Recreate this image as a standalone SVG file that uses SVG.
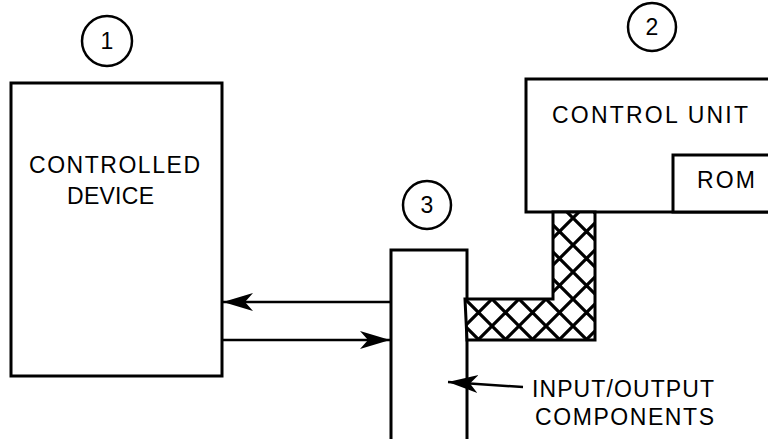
<svg xmlns="http://www.w3.org/2000/svg" width="768" height="439" viewBox="0 0 768 439">
<style>
.box{fill:#fff;stroke:#000;stroke-width:3}
.circ{fill:#fff;stroke:#000;stroke-width:2.5}
.lbl{font-family:"Liberation Sans",Arial,sans-serif;font-size:23px;fill:#000}
.num{font-family:"Liberation Sans",Arial,sans-serif;font-size:23px;fill:#000;text-anchor:middle}
.wire{fill:none;stroke:#000;stroke-width:2.5}
</style>
<defs>
<pattern id="hatch" patternUnits="userSpaceOnUse" width="27" height="27" x="465" y="299">
<rect width="27" height="27" fill="#fff"/>
<path d="M-1,-1 L28,28 M28,-1 L-1,28" stroke="#000" stroke-width="3.2"/>
</pattern>
<marker id="ah" markerUnits="userSpaceOnUse" markerWidth="34" markerHeight="22" refX="30" refY="9" orient="auto">
<path d="M0,0 L30,9 L0,18 L8,9 Z" fill="#000"/>
</marker>
</defs>
<g id="node-1">
<circle class="circ" cx="107" cy="41" r="25"/>
<text class="num" x="107" y="49">1</text>
<rect class="box" x="11" y="83" width="211" height="293"/>
<text class="lbl" x="29" y="173" textLength="171" lengthAdjust="spacing">CONTROLLED</text>
<text class="lbl" x="67" y="204" textLength="87" lengthAdjust="spacing">DEVICE</text>
</g>
<g id="node-2">
<circle class="circ" cx="652" cy="27" r="24"/>
<text class="num" x="652" y="35">2</text>
<rect class="box" x="526" y="79" width="260" height="133"/>
<text class="lbl" x="552" y="123" textLength="196" lengthAdjust="spacing">CONTROL UNIT</text>
<rect class="box" x="673" y="155" width="110" height="57"/>
<text class="lbl" x="697" y="188" textLength="58" lengthAdjust="spacing">ROM</text>
</g>
<g id="node-3">
<circle class="circ" cx="427" cy="205" r="24"/>
<text class="num" x="427" y="213">3</text>
<rect class="box" x="391" y="250" width="76" height="192"/>
<text class="lbl" x="532" y="397" textLength="182" lengthAdjust="spacing">INPUT/OUTPUT</text>
<text class="lbl" x="535" y="425" textLength="179" lengthAdjust="spacing">COMPONENTS</text>
</g>
<g id="connectors">
<path d="M465,299 L553,299 L553,212 L595,212 L595,340 L467,340 Z" fill="url(#hatch)" stroke="#000" stroke-width="3"/>
<line class="wire" x1="391" y1="302" x2="223" y2="302" marker-end="url(#ah)"/>
<line class="wire" x1="223" y1="340" x2="390" y2="340" marker-end="url(#ah)"/>
<line class="wire" x1="523" y1="387" x2="448" y2="382" marker-end="url(#ah)"/>
</g>
</svg>
